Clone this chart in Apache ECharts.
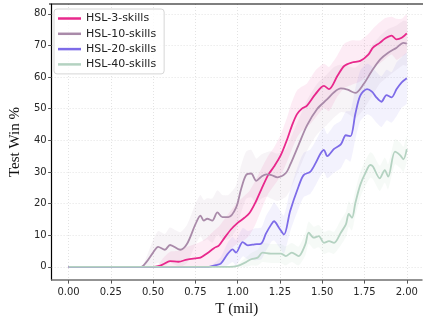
<!DOCTYPE html>
<html>
<head>
<meta charset="utf-8">
<script src="https://cdn.jsdelivr.net/npm/echarts@6/dist/echarts.min.js"></script>
<style>
  html, body { margin: 0; padding: 0; background: #fff; }
  #chart { width: 423px; height: 322px; }
</style>
</head>
<body>
<div id="chart"></div>
<script>
const names = ["HSL-3-skills", "HSL-10-skills", "HSL-20-skills", "HSL-40-skills"];
const colors = ["#e8288c", "#a98aa9", "#7d6be8", "#b4d2c1"];
const xTicks = [0, 0.25, 0.5, 0.75, 1.0, 1.25, 1.5, 1.75, 2.0];
const yTicks = [0, 10, 20, 30, 40, 50, 60, 70, 80];

// HSL-3-skills
const x3 = [0, 0.5, 0.53, 0.56, 0.6, 0.65, 0.7, 0.75, 0.78, 0.82, 0.86, 0.89, 0.92, 0.96, 1.0, 1.04, 1.07, 1.1, 1.14, 1.18, 1.215, 1.255, 1.294, 1.32, 1.35, 1.38, 1.41, 1.46, 1.51, 1.54, 1.59, 1.63, 1.676, 1.725, 1.774, 1.8, 1.84, 1.87, 1.91, 1.94, 1.97, 2.0];
const y3 = [0, 0, 0.2, 0.8, 1.8, 1.6, 2.3, 2.7, 2.9, 4.3, 5.9, 6.8, 9.0, 11.8, 13.9, 15.5, 17, 19.8, 24.5, 29, 31.7, 35.3, 40.5, 44.5, 48.2, 50, 51, 54.6, 57.2, 56.2, 60.4, 63.5, 64.6, 65.1, 67.2, 69.3, 70.8, 72.1, 73.1, 71.9, 72.4, 73.8];
const s3 = [0, 0, 0.5, 2, 3, 3.5, 4, 4.5, 5, 5, 5.5, 6, 6, 6, 6.5, 7, 7, 7, 6.5, 6, 6, 6.5, 7, 7.5, 7.5, 7, 7, 7.5, 7, 7, 6.5, 7, 7, 6.5, 6.5, 6, 6.5, 6.5, 6, 6.5, 6, 6];

// HSL-10-skills
const x10 = [0, 0.43, 0.46, 0.5, 0.53, 0.57, 0.6, 0.66, 0.7, 0.75, 0.78, 0.8, 0.82, 0.85, 0.88, 0.91, 0.945, 0.99, 1.02, 1.05, 1.08, 1.11, 1.14, 1.17, 1.2, 1.235, 1.284, 1.31, 1.36, 1.41, 1.47, 1.53, 1.57, 1.61, 1.65, 1.696, 1.745, 1.794, 1.843, 1.89, 1.94, 1.98, 2.0];
const y10 = [0, 0, 1.5, 4.5, 6.3, 5.4, 6.9, 5.4, 7.2, 13.4, 16.2, 14.6, 15.2, 14.6, 17.2, 15.7, 15.7, 18.6, 24.5, 29, 29.5, 27.2, 28.5, 29.2, 29, 28.3, 29.6, 32.2, 38.5, 44.7, 49.9, 53, 55.2, 56.4, 56, 55, 57.8, 62, 65.6, 67.7, 69.3, 70.8, 70.6];
const s10 = [0, 0, 1.5, 4, 5, 5, 5.5, 5.5, 6, 6.5, 6.5, 6.5, 6.5, 7, 7, 7, 7, 7, 7.5, 7.5, 7.5, 7, 7, 7, 7.5, 7.5, 7.5, 8, 8, 8, 8, 8, 8, 7.5, 7.5, 8, 8, 8, 7.5, 7.5, 7, 7, 7];

// HSL-20-skills
const x20 = [0, 0.83, 0.87, 0.9, 0.94, 0.97, 0.99, 1.03, 1.06, 1.1, 1.14, 1.167, 1.2, 1.215, 1.245, 1.274, 1.31, 1.36, 1.39, 1.43, 1.46, 1.49, 1.51, 1.53, 1.57, 1.61, 1.64, 1.667, 1.696, 1.725, 1.765, 1.794, 1.82, 1.85, 1.88, 1.91, 1.94, 1.97, 2.0];
const y20 = [0, 0, 0.5, 1, 4, 5.5, 4.5, 7.8, 6.8, 7.1, 7.4, 10.5, 13.5, 14.4, 12.3, 10.2, 17.6, 25.4, 29, 30.1, 32.7, 35.8, 37, 35, 37.3, 38.7, 41.6, 41.3, 48.4, 54.1, 56.2, 55.4, 53.6, 52.2, 54.3, 53.6, 56.2, 58.3, 59.6];
const s20 = [0, 0, 1, 2, 3.5, 4, 4, 4.5, 4.5, 5, 5, 5.5, 5.5, 6, 6, 6, 6.5, 7, 7, 7, 7, 7, 7, 7, 7.5, 7.5, 7.5, 8, 8, 8, 8, 8, 8, 8, 8, 8, 8.5, 8, 8];

// HSL-40-skills
const x40 = [0, 0.95, 1.0, 1.05, 1.08, 1.118, 1.147, 1.196, 1.255, 1.284, 1.32, 1.36, 1.4, 1.42, 1.45, 1.48, 1.51, 1.54, 1.57, 1.61, 1.64, 1.657, 1.676, 1.696, 1.725, 1.755, 1.784, 1.8, 1.84, 1.87, 1.89, 1.93, 1.96, 1.98, 2.0];
const y40 = [0, 0, 0.3, 1.5, 2.4, 2.9, 4.5, 4.2, 4.2, 3.4, 4.5, 3.4, 7.1, 10.8, 9.2, 9.7, 7.6, 8.1, 7.6, 10.8, 13.4, 16.7, 15.5, 20.2, 25.9, 29.6, 32.2, 31.7, 28, 30.6, 28.5, 36.4, 35.3, 34, 37.2];
const s40 = [0, 0, 0.5, 1.5, 2, 2.5, 3, 3, 3, 3, 3, 3, 3.5, 3.5, 3.5, 3.5, 3.5, 3.5, 3.5, 4, 4, 4, 4, 4, 4, 4, 4, 4, 4, 4, 4, 4, 4, 4, 4];

const runs = [
  { x: x3, y: y3, s: s3 },
  { x: x10, y: y10, s: s10 },
  { x: x20, y: y20, s: s20 },
  { x: x40, y: y40, s: s40 },
];

const bandAlpha = [0.09, 0.09, 0.09, 0.12];

function hexA(hex, a) {
  const n = parseInt(hex.slice(1), 16);
  return "rgba(" + (n >> 16) + "," + ((n >> 8) & 255) + "," + (n & 255) + "," + a + ")";
}

const chart = echarts.init(document.getElementById("chart"));

const series = [];
runs.forEach((r, i) => {
  // shaded band drawn as one polygon through the axis scales
  series.push({
    type: "custom",
    silent: true,
    z: 1,
    data: [0],
    renderItem: function (params, api) {
      const pts = [];
      for (let k = 0; k < r.x.length; k++) {
        pts.push(api.coord([r.x[k], r.y[k] + r.s[k]]));
      }
      for (let k = r.x.length - 1; k >= 0; k--) {
        pts.push(api.coord([r.x[k], Math.max(0, r.y[k] - r.s[k])]));
      }
      return {
        type: "polygon",
        shape: { points: pts, smooth: 0.2 },
        style: { fill: hexA(colors[i], bandAlpha[i]) },
      };
    },
  });
});
runs.forEach((r, i) => {
  series.push({
    name: names[i],
    type: "line",
    z: 5,
    data: r.x.map((v, k) => [v, r.y[k]]),
    smooth: 0.3,
    symbol: "none",
    lineStyle: { color: colors[i], width: 1.8 },
    itemStyle: { color: colors[i] },
  });
});

const option = {
  animation: false,
  backgroundColor: "#fff",
  grid: { left: 49, top: 4, right: 1, bottom: 40 },
  legend: {
    orient: "vertical",
    left: 54,
    top: 9,
    data: names,
    icon: "rect",
    itemWidth: 23,
    itemHeight: 2.5,
    itemGap: 4.3,
    itemTextGap: 7,
    padding: [4, 8, 4, 4],
    backgroundColor: "rgba(255,255,255,0.8)",
    borderColor: "#d6d6d6",
    borderWidth: 1,
    borderRadius: 3,
    textStyle: { fontFamily: "DejaVu Sans", fontSize: 11, color: "#222" },
  },
  xAxis: {
    type: "value",
    min: -0.1,
    max: 2.09,
    name: "T (mil)",
    nameLocation: "middle",
    nameGap: 21,
    nameTextStyle: { fontFamily: "Liberation Serif", fontSize: 15, color: "#111" },
    axisLine: { show: true, onZero: false, lineStyle: { color: "#707070", width: 1.5 } },
    axisTick: { show: true, customValues: xTicks, length: 3.5, lineStyle: { color: "#555" } },
    axisLabel: {
      customValues: xTicks,
      formatter: (v) => v.toFixed(2),
      fontFamily: "DejaVu Sans",
      fontSize: 10,
      color: "#262626",
      margin: 7,
    },
    splitLine: { show: true, lineStyle: { color: "#dcdcdc", type: [1, 2], width: 0.8 } },
  },
  yAxis: {
    type: "value",
    min: -4.2,
    max: 83.1,
    name: "Test Win %",
    nameLocation: "middle",
    nameGap: 24,
    nameTextStyle: { fontFamily: "Liberation Serif", fontSize: 15, color: "#111" },
    axisLine: { show: true, onZero: false, lineStyle: { color: "#000", width: 1.2 } },
    axisTick: { show: true, customValues: yTicks, length: 3.5, lineStyle: { color: "#555" } },
    axisLabel: {
      customValues: yTicks,
      fontFamily: "DejaVu Sans",
      fontSize: 10,
      color: "#262626",
      margin: 5,
    },
    splitLine: { show: true, lineStyle: { color: "#dcdcdc", type: [1, 2], width: 0.8 } },
  },
  graphic: [
    {
      type: "line",
      shape: { x1: 49, y1: 4, x2: 423, y2: 4 },
      style: { stroke: "#000", lineWidth: 1.2 },
      z: 10,
    },
  ],
  series: series,
};

chart.setOption(option);
</script>
</body>
</html>
